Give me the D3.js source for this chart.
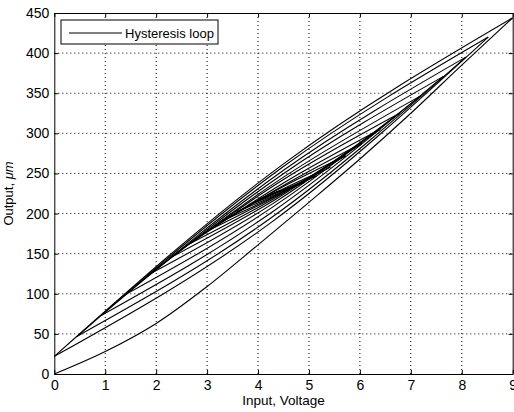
<!DOCTYPE html>
<html>
<head>
<meta charset="utf-8">
<script src="https://cdn.jsdelivr.net/npm/d3@7"></script>
<style>
  html, body { margin: 0; padding: 0; background: #fff; }
  svg { display: block; font-family: "Liberation Sans", Arial, Helvetica, sans-serif; }
  .tick text { font-size: 14px; fill: #000; }
  .axis path, .axis line { stroke: #000; stroke-width: 1; }
  .grid line { stroke: #000; stroke-width: 1; stroke-dasharray: 1 3; }
  .loop { fill: none; stroke: #000; stroke-width: 1.1; }
</style>
</head>
<body>
<svg id="chart" width="514" height="412"></svg>
<script>
// ---- data ----------------------------------------------------------------
// first (virgin) rise from the origin
const virginX = [0, 1, 2, 3, 4, 5, 6, 7, 8, 9];
const virginY = [0, 28, 63, 109, 161, 214, 268, 325, 385, 444];

// turning points of the loop, in the order they are visited
const turnX = [9, 0, 8.52, 0.45, 8.08, 0.92, 7.64, 1.37, 7.2, 1.83, 6.78, 2.25, 6.4, 2.65,
  6.05, 3.0, 5.72, 3.3, 5.42, 3.58, 5.15, 3.82, 4.92, 4.02, 4.72, 4.2, 4.55, 4.35];
const turnY = [444, 22, 420, 47, 395, 73, 371, 98, 347, 123, 325, 144, 305, 162,
  288, 178, 272, 191, 258, 202, 247, 211, 239, 218, 234, 223, 230, 227];
// output half way along each branch (branch i runs from turn i to turn i+1)
const midY = [262, 189, 258, 195, 254, 202, 250, 208, 246, 213, 243, 217, 239, 220,
  236, 222, 234, 222.5, 231, 223.5, 229.5, 224.5, 229, 226, 228.5, 226.5, 228.5];

const xTicks = [0, 1, 2, 3, 4, 5, 6, 7, 8, 9];
const yTicks = [0, 50, 100, 150, 200, 250, 300, 350, 400, 450];
const legendLabel = "Hysteresis loop";

// ---- layout ---------------------------------------------------------------
const L = 54.3, R = 512.7, T = 13, B = 374;

const svg = d3.select("#chart");
const x = d3.scaleLinear().domain([0, 9]).range([L, R]);
const y = d3.scaleLinear().domain([0, 450]).range([B, T]);

// grid (dotted, matlab style)
const grid = svg.append("g").attr("class", "grid");
grid.selectAll("line.gx").data(xTicks.slice(1, -1)).enter().append("line")
  .attr("x1", (d) => x(d)).attr("x2", (d) => x(d)).attr("y1", T).attr("y2", B);
grid.selectAll("line.gy").data(yTicks.slice(1, -1)).enter().append("line")
  .attr("y1", (d) => y(d)).attr("y2", (d) => y(d)).attr("x1", L).attr("x2", R);

// curves
const plot = svg.append("g");
const virgin = virginX.map((v, i) => [v, virginY[i]]);
plot.append("path").attr("class", "loop")
  .attr("d", d3.line().x((d) => x(d[0])).y((d) => y(d[1])).curve(d3.curveMonotoneX)(virgin));

const branchLine = d3.line().x((d) => x(d[0])).y((d) => y(d[1])).curve(d3.curveNatural);
const branches = midY.map((m, i) => [
  [turnX[i], turnY[i]],
  [(turnX[i] + turnX[i + 1]) / 2, m],
  [turnX[i + 1], turnY[i + 1]],
]);
plot.selectAll("path.br").data(branches).enter().append("path")
  .attr("class", "loop br").attr("d", branchLine);

// axes, ticks pointing inward on all four sides
svg.append("g").attr("class", "axis").attr("transform", `translate(0,${B})`)
  .call(d3.axisBottom(x).tickValues(xTicks).tickFormat(d3.format("d")).tickSizeInner(-4).tickSizeOuter(0).tickPadding(6));
svg.append("g").attr("class", "axis").attr("transform", `translate(${L},0)`)
  .call(d3.axisLeft(y).tickValues(yTicks).tickFormat(d3.format("d")).tickSizeInner(-4).tickSizeOuter(0).tickPadding(5));
svg.append("g").attr("class", "axis").attr("transform", `translate(0,${T})`)
  .call(d3.axisTop(x).tickValues(xTicks).tickFormat("").tickSizeInner(-4).tickSizeOuter(0));
svg.append("g").attr("class", "axis").attr("transform", `translate(${R},0)`)
  .call(d3.axisRight(y).tickValues(yTicks).tickFormat("").tickSizeInner(-4).tickSizeOuter(0));

// axis labels
svg.append("text").attr("x", (L + R) / 2).attr("y", 405).attr("text-anchor", "middle")
  .attr("font-size", 13.5).text("Input, Voltage");
const yl = svg.append("text").attr("transform", `translate(13,${(T + B) / 2}) rotate(-90)`)
  .attr("text-anchor", "middle").attr("font-size", 13);
yl.append("tspan").text("Output, ");
yl.append("tspan").attr("font-style", "italic").text("μm");

// legend
const lg = svg.append("g");
lg.append("rect").attr("x", 61).attr("y", 20).attr("width", 157).attr("height", 24)
  .attr("fill", "#fff").attr("stroke", "#000");
lg.append("line").attr("x1", 69).attr("x2", 122).attr("y1", 33).attr("y2", 33)
  .attr("stroke", "#000").attr("stroke-width", 1.1);
lg.append("text").attr("x", 125).attr("y", 33).attr("dy", "0.35em")
  .attr("font-size", 13).text(legendLabel);
</script>
</body>
</html>
